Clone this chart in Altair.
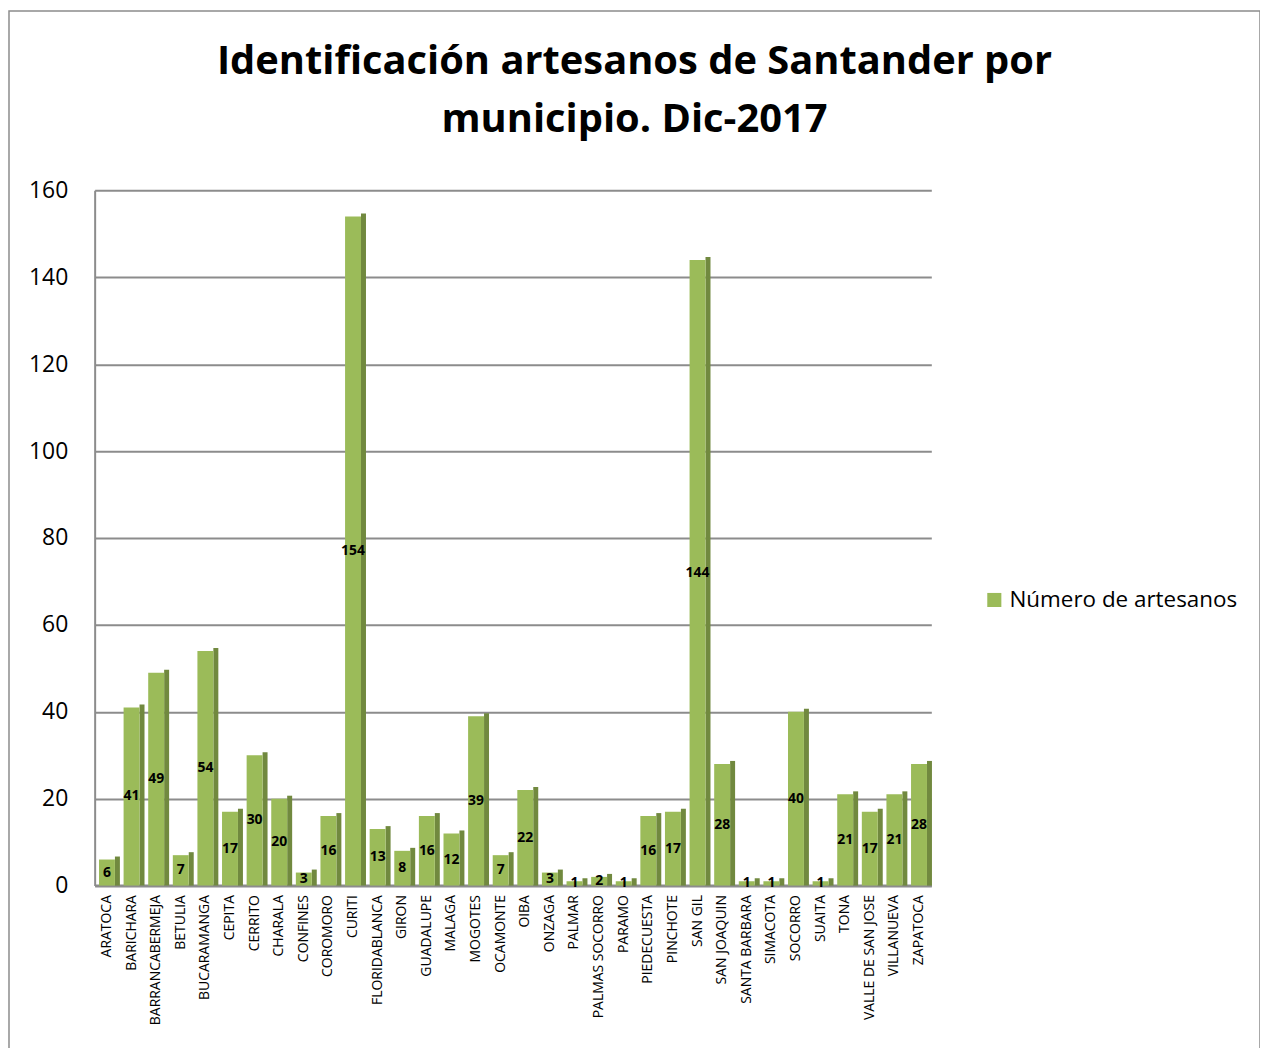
import altair as alt
import pandas as pd

categories = ["ARATOCA", "BARICHARA", "BARRANCABERMEJA", "BETULIA", "BUCARAMANGA", "CEPITA",
              "CERRITO", "CHARALA", "CONFINES", "COROMORO", "CURITI", "FLORIDABLANCA", "GIRON",
              "GUADALUPE", "MALAGA", "MOGOTES", "OCAMONTE", "OIBA", "ONZAGA", "PALMAR",
              "PALMAS SOCORRO", "PARAMO", "PIEDECUESTA", "PINCHOTE", "SAN GIL", "SAN JOAQUIN",
              "SANTA BARBARA", "SIMACOTA", "SOCORRO", "SUAITA", "TONA", "VALLE DE SAN JOSE",
              "VILLANUEVA", "ZAPATOCA"]
values = [6, 41, 49, 7, 54, 17, 30, 20, 3, 16, 154, 13, 8, 16, 12, 39, 7, 22, 3, 1,
          2, 1, 16, 17, 144, 28, 1, 1, 40, 1, 21, 17, 21, 28]
series_name = "Número de artesanos"
title_lines = ["Identificación artesanos de Santander por", "municipio. Dic-2017"]
y_ticks = [0, 20, 40, 60, 80, 100, 120, 140, 160]

df = pd.DataFrame({"municipio": categories, "valor": values, "serie": series_name})

FONT = "Open Sans"
GREEN = "#9BBB59"
DARK = "#71893F"
GRID = "#8C8C8C"

xenc = alt.X("municipio:N", sort=None, title=None,
             scale=alt.Scale(paddingInner=0, paddingOuter=0),
             axis=alt.Axis(labelAngle=270, labelAlign="right", labelBaseline="middle",
                           labelPadding=9, labelFontSize=14, labelFont=FONT, labelColor="#000000",
                           ticks=False, domain=True, domainColor=GRID, domainWidth=3,
                           labelOverlap=False))
yscale = alt.Scale(domain=[0, 160], nice=False)

base = alt.Chart(df)

side = base.mark_bar(size=5, xOffset=10.5, yOffset=-3, color=DARK).encode(
    x=xenc,
    y=alt.Y("valor:Q", scale=yscale),
    y2=alt.datum(0),
)

front = base.mark_bar(size=16, xOffset=0).encode(
    x=xenc,
    y=alt.Y("valor:Q", scale=yscale, title=None,
            axis=alt.Axis(values=y_ticks, labelFontSize=23, labelFont=FONT, labelColor="#000000",
                          ticks=False, labelPadding=27, domain=True, domainColor=GRID,
                          domainWidth=2, grid=True, gridColor=GRID, gridWidth=2)),
    color=alt.Color("serie:N", title=None,
                    scale=alt.Scale(range=[GREEN]),
                    legend=alt.Legend(orient="none", legendX=892, legendY=400,
                                      symbolType="square", symbolSize=200,
                                      symbolStrokeWidth=0, labelFontSize=22.5, labelFont=FONT,
                                      labelColor="#000000", labelLimit=400)),
)

labels = base.transform_calculate(half="datum.valor / 2").mark_text(
    font=FONT, fontSize=14, fontWeight="bold", color="#000000", baseline="middle"
).encode(
    x=xenc,
    y=alt.Y("half:Q", scale=yscale),
    text="valor:Q",
)

border = alt.Chart(pd.DataFrame({"a": [0]})).mark_rect(
    fill=None, stroke="#8C8C8C", strokeWidth=1.5
).encode(
    x=alt.value(-86), x2=alt.value(1170), y=alt.value(-180), y2=alt.value(875)
)

title1 = alt.Chart(pd.DataFrame({"t": [title_lines[0]]})).mark_text(
    font=FONT, fontSize=40, fontWeight="bold", color="#000000", baseline="middle", align="center"
).encode(text="t:N", x=alt.value(542), y=alt.value(-129))
title2 = alt.Chart(pd.DataFrame({"t": [title_lines[1]]})).mark_text(
    font=FONT, fontSize=40, fontWeight="bold", color="#000000", baseline="middle", align="center"
).encode(text="t:N", x=alt.value(542), y=alt.value(-71))

chart = alt.layer(border, title1, title2, side, front, labels).properties(
    width=840, height=698,
    autosize=alt.AutoSizeParams(type="none"),
    padding={"left": 87, "top": 181, "right": 330, "bottom": 170},
).configure_view(stroke=None)

chart.save("out.html", embed_options={"renderer": "svg", "actions": False})
